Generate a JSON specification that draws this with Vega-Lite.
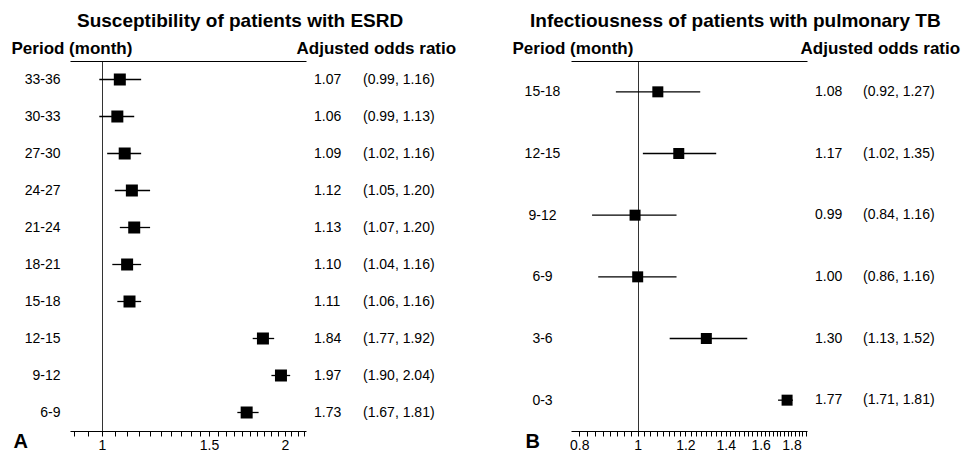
{
  "$schema": "https://vega.github.io/schema/vega-lite/v6.json",
  "padding": {"left": 11, "top": 12, "right": 0, "bottom": 0},
  "bounds": "flush",
  "spacing": 8,
  "config": {
    "font": "Liberation Sans",
    "view": {"stroke": null},
    "axis": {"grid": false, "domainColor": "#000", "tickColor": "#000", "labelColor": "#000", "titleColor": "#000", "labelFontSize": 14, "labelFont": "Liberation Sans", "titleFont": "Liberation Sans"},
    "title": {"color": "#000", "font": "Liberation Sans"}
  },
  "resolve": {"scale": {"x": "independent", "y": "independent"}},
  "datasets": {
    "esrd": [
      {"period": "33-36", "or": 1.07, "lo": 0.99, "hi": 1.16, "ci": "(0.99, 1.16)"},
      {"period": "30-33", "or": 1.06, "lo": 0.99, "hi": 1.13, "ci": "(0.99, 1.13)"},
      {"period": "27-30", "or": 1.09, "lo": 1.02, "hi": 1.16, "ci": "(1.02, 1.16)"},
      {"period": "24-27", "or": 1.12, "lo": 1.05, "hi": 1.20, "ci": "(1.05, 1.20)"},
      {"period": "21-24", "or": 1.13, "lo": 1.07, "hi": 1.20, "ci": "(1.07, 1.20)"},
      {"period": "18-21", "or": 1.10, "lo": 1.04, "hi": 1.16, "ci": "(1.04, 1.16)"},
      {"period": "15-18", "or": 1.11, "lo": 1.06, "hi": 1.16, "ci": "(1.06, 1.16)"},
      {"period": "12-15", "or": 1.84, "lo": 1.77, "hi": 1.92, "ci": "(1.77, 1.92)"},
      {"period": "9-12", "or": 1.97, "lo": 1.90, "hi": 2.04, "ci": "(1.90, 2.04)"},
      {"period": "6-9", "or": 1.73, "lo": 1.67, "hi": 1.81, "ci": "(1.67, 1.81)"}
    ],
    "tb": [
      {"period": "15-18", "or": 1.08, "lo": 0.92, "hi": 1.27, "ci": "(0.92, 1.27)"},
      {"period": "12-15", "or": 1.17, "lo": 1.02, "hi": 1.35, "ci": "(1.02, 1.35)"},
      {"period": "9-12", "or": 0.99, "lo": 0.84, "hi": 1.16, "ci": "(0.84, 1.16)"},
      {"period": "6-9", "or": 1.00, "lo": 0.86, "hi": 1.16, "ci": "(0.86, 1.16)"},
      {"period": "3-6", "or": 1.30, "lo": 1.13, "hi": 1.52, "ci": "(1.13, 1.52)"},
      {"period": "0-3", "or": 1.77, "lo": 1.71, "hi": 1.81, "ci": "(1.71, 1.81)"}
    ]
  },
  "hconcat": [
    {
      "data": {"name": "esrd"},
      "width": 236,
      "height": 370,
      "title": {"text": "Susceptibility of patients with ESRD", "anchor": "start", "dx": 66, "fontSize": 19, "fontWeight": "bold", "offset": 8},
      "resolve": {"axis": {"x": "independent"}},
      "encoding": {
        "y": {"field": "period", "type": "nominal", "sort": null, "scale": {"type": "point", "padding": 0.5},
              "axis": {"orient": "left", "domain": false, "ticks": false, "labelPadding": 10, "labelAlign": "right", "labelFontSize": 14,
                       "title": "Period (month)", "titleAngle": 0, "titleFontSize": 17, "titleFontWeight": "bold", "titleAlign": "left", "titleBaseline": "alphabetic", "titleX": -59, "titleY": -8}}
      },
      "layer": [
        {
          "mark": {"type": "rule", "color": "#000", "strokeWidth": 1.3},
          "encoding": {
            "x": {"field": "lo", "type": "quantitative", "scale": {"type": "log", "domain": [0.886, 2.166], "nice": false, "zero": false},
                  "axis": {"orient": "bottom", "values": [0.9, 0.95, 1, 1.05, 1.1, 1.15, 1.2, 1.25, 1.3, 1.35, 1.4, 1.45, 1.5, 1.55, 1.6, 1.65, 1.7, 1.75, 1.8, 1.85, 1.9, 1.95, 2, 2.05, 2.1, 2.15],
                           "labelExpr": "datum.value == 1 ? '1' : datum.value == 1.5 ? '1.5' : datum.value == 2 ? '2' : ''",
                           "labelOverlap": false, "labelFlush": false, "tickSize": 5, "labelPadding": 2,
                           "title": "A", "titleFontSize": 20, "titleFontWeight": "bold", "titleAlign": "left", "titleBaseline": "alphabetic", "titleX": -57, "titleY": 16}},
            "x2": {"field": "hi"}
          }
        },
        {
          "mark": {"type": "square", "color": "#000", "opacity": 1, "size": 144},
          "encoding": {
            "x": {"field": "or", "type": "quantitative",
                  "axis": {"orient": "top", "values": [1], "labels": false, "ticks": false, "title": null, "domain": true, "grid": true, "gridColor": "#333", "gridWidth": 1, "gridOpacity": 1}}
          }
        }
      ]
    },
    {
      "data": {"name": "esrd"},
      "width": 249,
      "height": 370,
      "encoding": {"y": {"field": "period", "type": "nominal", "sort": null, "scale": {"type": "point", "padding": 0.5},
                         "axis": {"orient": "left", "domain": false, "ticks": false, "labels": false,
                                  "title": "Adjusted odds ratio", "titleAngle": 0, "titleFontSize": 17, "titleFontWeight": "bold", "titleAlign": "left", "titleBaseline": "alphabetic", "titleX": -18, "titleY": -8}}},
      "layer": [
        {
          "mark": {"type": "text", "align": "left", "baseline": "middle", "fontSize": 14, "color": "#000"},
          "encoding": {
            "x": {"datum": "OR", "type": "nominal", "scale": {"type": "point", "domain": ["OR", "CI"], "range": [0, 49], "padding": 0}, "axis": null},
            "text": {"field": "or", "type": "quantitative", "format": ".2f"}
          }
        },
        {
          "mark": {"type": "text", "align": "left", "baseline": "middle", "fontSize": 14, "color": "#000"},
          "encoding": {
            "x": {"datum": "CI", "type": "nominal"},
            "text": {"field": "ci", "type": "nominal"}
          }
        }
      ]
    },
    {
      "data": {"name": "tb"},
      "width": 236,
      "height": 370,
      "title": {"text": "Infectiousness of patients with pulmonary TB", "anchor": "start", "dx": 18, "fontSize": 19, "fontWeight": "bold", "offset": 8},
      "resolve": {"axis": {"x": "independent"}},
      "encoding": {
        "y": {"field": "period", "type": "nominal", "sort": null, "scale": {"type": "point", "padding": 0.5},
              "axis": {"orient": "left", "domain": false, "ticks": false, "labelPadding": 29, "labelAlign": "center", "labelFontSize": 14,
                       "title": "Period (month)", "titleAngle": 0, "titleFontSize": 17, "titleFontWeight": "bold", "titleAlign": "left", "titleBaseline": "alphabetic", "titleX": -59, "titleY": -8}}
      },
      "layer": [
        {
          "mark": {"type": "rule", "color": "#000", "strokeWidth": 1.3},
          "encoding": {
            "x": {"field": "lo", "type": "quantitative", "scale": {"type": "log", "domain": [0.775, 1.91], "nice": false, "zero": false},
                  "axis": {"orient": "bottom", "values": [0.8, 0.825, 0.85, 0.875, 0.9, 0.925, 0.95, 0.975, 1, 1.025, 1.05, 1.075, 1.1, 1.125, 1.15, 1.175, 1.2, 1.225, 1.25, 1.275, 1.3, 1.325, 1.35, 1.375, 1.4, 1.425, 1.45, 1.475, 1.5, 1.525, 1.55, 1.575, 1.6, 1.625, 1.65, 1.675, 1.7, 1.725, 1.75, 1.775, 1.8, 1.825, 1.85, 1.875, 1.9],
                           "labelExpr": "indexof([0.8, 1, 1.2, 1.4, 1.6, 1.8], datum.value) >= 0 ? format(datum.value, '~g') : ''",
                           "labelOverlap": false, "labelFlush": false, "tickSize": 5, "labelPadding": 2,
                           "title": "B", "titleFontSize": 20, "titleFontWeight": "bold", "titleAlign": "left", "titleBaseline": "alphabetic", "titleX": -46, "titleY": 16}},
            "x2": {"field": "hi"}
          }
        },
        {
          "mark": {"type": "square", "color": "#000", "opacity": 1, "size": 121},
          "encoding": {
            "x": {"field": "or", "type": "quantitative",
                  "axis": {"orient": "top", "values": [1], "labels": false, "ticks": false, "title": null, "domain": true, "grid": true, "gridColor": "#333", "gridWidth": 1, "gridOpacity": 1}}
          }
        }
      ]
    },
    {
      "data": {"name": "tb"},
      "width": 150,
      "height": 370,
      "encoding": {"y": {"field": "period", "type": "nominal", "sort": null, "scale": {"type": "point", "padding": 0.5},
                         "axis": {"orient": "left", "domain": false, "ticks": false, "labels": false,
                                  "title": "Adjusted odds ratio", "titleAngle": 0, "titleFontSize": 17, "titleFontWeight": "bold", "titleAlign": "left", "titleBaseline": "alphabetic", "titleX": -15, "titleY": -8}}},
      "layer": [
        {
          "mark": {"type": "text", "align": "left", "baseline": "middle", "fontSize": 14, "color": "#000"},
          "encoding": {
            "x": {"datum": "OR", "type": "nominal", "scale": {"type": "point", "domain": ["OR", "CI"], "range": [0, 48], "padding": 0}, "axis": null},
            "text": {"field": "or", "type": "quantitative", "format": ".2f"}
          }
        },
        {
          "mark": {"type": "text", "align": "left", "baseline": "middle", "fontSize": 14, "color": "#000"},
          "encoding": {
            "x": {"datum": "CI", "type": "nominal"},
            "text": {"field": "ci", "type": "nominal"}
          }
        }
      ]
    }
  ]
}
